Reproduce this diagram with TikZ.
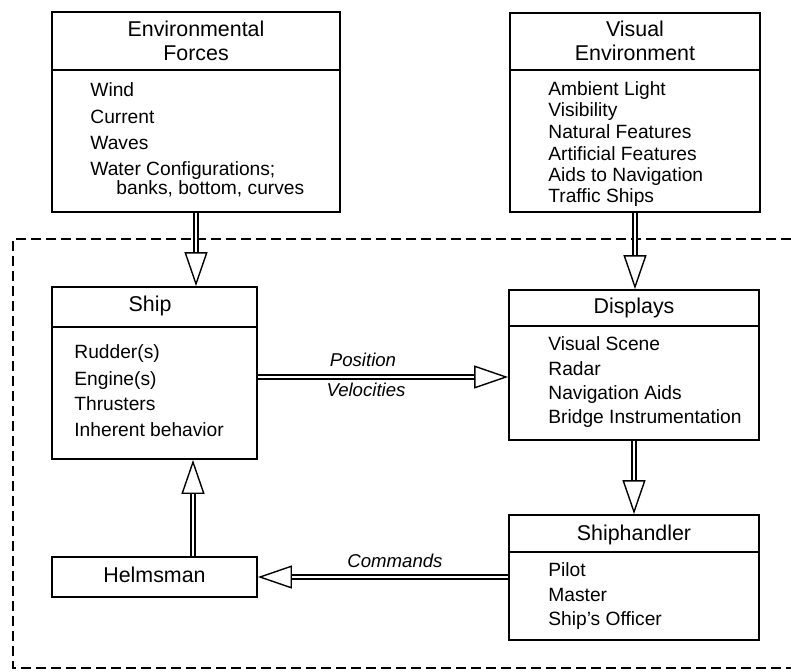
\documentclass[tikz,border=0pt]{standalone}
\usepackage{fontspec}
\setmainfont{Liberation Sans}
\usetikzlibrary{arrows.meta,fit,calc}
\newcommand\dblarrow[2]{\draw[tipline] #1 -- #2; \draw[shaft] #1 -- #2;}
\begin{document}
\begin{tikzpicture}[x=0.5pt,y=-0.5pt,
 box/.style={draw, line width=0.9pt, inner sep=0pt},
 hdr/.style={font=\fontsize{10.7}{12.8}\selectfont, anchor=base, inner sep=0pt},
 item/.style={font=\fontsize{9.6}{11}\selectfont, anchor=base west, inner sep=0pt},
 lbl/.style={font=\fontsize{9.3}{11}\selectfont\itshape, anchor=base, inner sep=0pt},
 divider/.style={line width=1.1pt},
 shaft/.style={double, double distance=1.3pt, line width=0.7pt, shorten >=17pt},
 tipline/.style={line width=0.7pt, -{Triangle[open, length=17pt, width=11.5pt, line width=0.7pt]}},
 frame/.style={line width=0.8pt, dash pattern=on 5pt off 2.5pt}]

\useasboundingbox (0,0) rectangle (791,671);

% Environmental Forces
\node[box, fit={(52,12) (340,212)}] (ef) {};
\draw[divider] (52,70) -- (340,70);
\node[hdr] (efh1) at (196,36) {Environmental};
\node[hdr] (efh2) at (196,60) {Forces};
\foreach \t/\y [count=\i] in {Wind/96.7, Current/123, Waves/149, {Water Configurations;}/175.7}
  \node[item] (efi\i) at (90,\y) {\t};
\node[item] (efi5) at (116,194.7) {banks, bottom, curves};

% Visual Environment
\node[box, fit={(510,13) (760,212)}] (ve) {};
\draw[divider] (510,70) -- (760,70);
\node[hdr] (veh1) at (635,36) {Visual};
\node[hdr] (veh2) at (635,60.7) {Environment};
\foreach \t/\y [count=\i] in {Ambient Light/95, Visibility/116.7, Natural Features/138.3, Artificial Features/160, Aids to Navigation/181.7, Traffic Ships/202.7}
  \node[item] (vei\i) at (548,\y) {\t};

% Ship
\node[box, fit={(52,287) (257,459)}] (ship) {};
\draw[divider] (52,327) -- (257,327);
\node[hdr] (shiph) at (150,311.7) {Ship};
\foreach \t/\y [count=\i] in {Rudder(s)/358.3, Engine(s)/385, Thrusters/410, Inherent behavior/436.7}
  \node[item] (shipi\i) at (74,\y) {\t};

% Displays
\node[box, fit={(509,290) (759,440)}] (disp) {};
\draw[divider] (509,326) -- (759,326);
\node[hdr] (disph) at (634,313.3) {Displays};
\foreach \t/\y [count=\i] in {Visual Scene/350.7, Radar/375, Navigation Aids/399.3, Bridge Instrumentation/423.3}
  \node[item] (dispi\i) at (548,\y) {\t};

% Shiphandler
\node[box, fit={(509,515) (759,640)}] (sh) {};
\draw[divider] (509,552) -- (759,552);
\node[hdr] (shh) at (634,540) {Shiphandler};
\foreach \t/\y [count=\i] in {Pilot/576.7, Master/601.7, Ship's Officer/625}
  \node[item] (shi\i) at (548,\y) {\t};

% Helmsman
\node[box, fit={(52,557) (257,597)}] (helm) {};
\node[hdr] (helmt) at (154.5,582.7) {Helmsman};

% frame
\draw[frame] (791,239) -- (13,239) -- (13,668) -- (791,668);

% arrows
\coordinate (hs) at (193,0);
\coordinate (pv) at ([yshift=-2pt]ship.east);
\dblarrow{(ef.south)}{(ef.south |- ship.north)}
\dblarrow{(ve.south)}{(ve.south |- disp.north)}
\dblarrow{(disp.south)}{(sh.north)}
\dblarrow{(pv)}{(pv -| disp.west)}
\dblarrow{(helm.north -| hs)}{(ship.south -| hs)}
\dblarrow{(sh.west |- helm.east)}{(helm.east)}

% labels
\node[lbl] (lpos) at (363,366.7) {Position};
\node[lbl] (lvel) at (366,396.7) {Velocities};
\node[lbl] (lcmd) at (395,567.7) {Commands};
\end{tikzpicture}
\end{document}
